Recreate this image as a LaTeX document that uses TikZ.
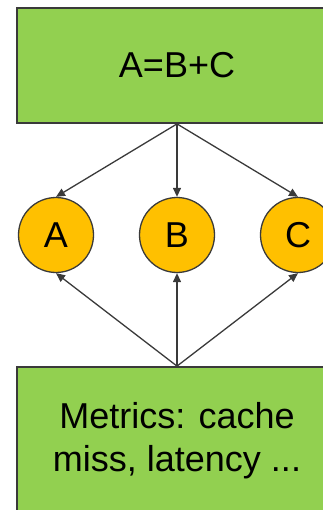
\documentclass[tikz,border=0pt]{standalone}
\usepackage{fontspec}
\setmainfont{Liberation Sans}
\usetikzlibrary{arrows.meta}
\definecolor{boxgreen}{HTML}{92D050}
\definecolor{circorange}{HTML}{FFC000}
\definecolor{edgegray}{HTML}{3A3A3A}
\begin{document}
\begin{tikzpicture}[x=1pt,y=-1pt,
  greenbox/.style={draw=edgegray,line width=1.8pt,fill=boxgreen,rectangle,inner sep=0pt,minimum width=320pt,align=center,font=\fontsize{36}{43}\selectfont},
  varcirc/.style={draw=edgegray,line width=1.3pt,fill=circorange,circle,inner sep=0pt,minimum size=75pt,font=\fontsize{36}{43}\selectfont},
  conn/.style={draw=edgegray,line width=1.3pt,-{Triangle[length=9pt,width=8pt]}}]
\useasboundingbox (0,0) rectangle (322,510);
\node[greenbox,minimum height=115pt] (top) at (177,65.5) {A=B+C};
\node[greenbox,minimum height=148pt] (bot) at (177,441) {Metrics: cache\\miss, latency ...};
\node[varcirc] (A) at (56,235) {A};
\node[varcirc] (B) at (177,235) {B};
\node[varcirc] (C) at (298,235) {C};
\draw[conn] (top.south) -- (A.north);
\draw[conn] (top.south) -- (B.north);
\draw[conn] (top.south) -- (C.north);
\draw[conn] (bot.north) -- (A.south);
\draw[conn] (bot.north) -- (B.south);
\draw[conn] (bot.north) -- (C.south);
\end{tikzpicture}
\end{document}
